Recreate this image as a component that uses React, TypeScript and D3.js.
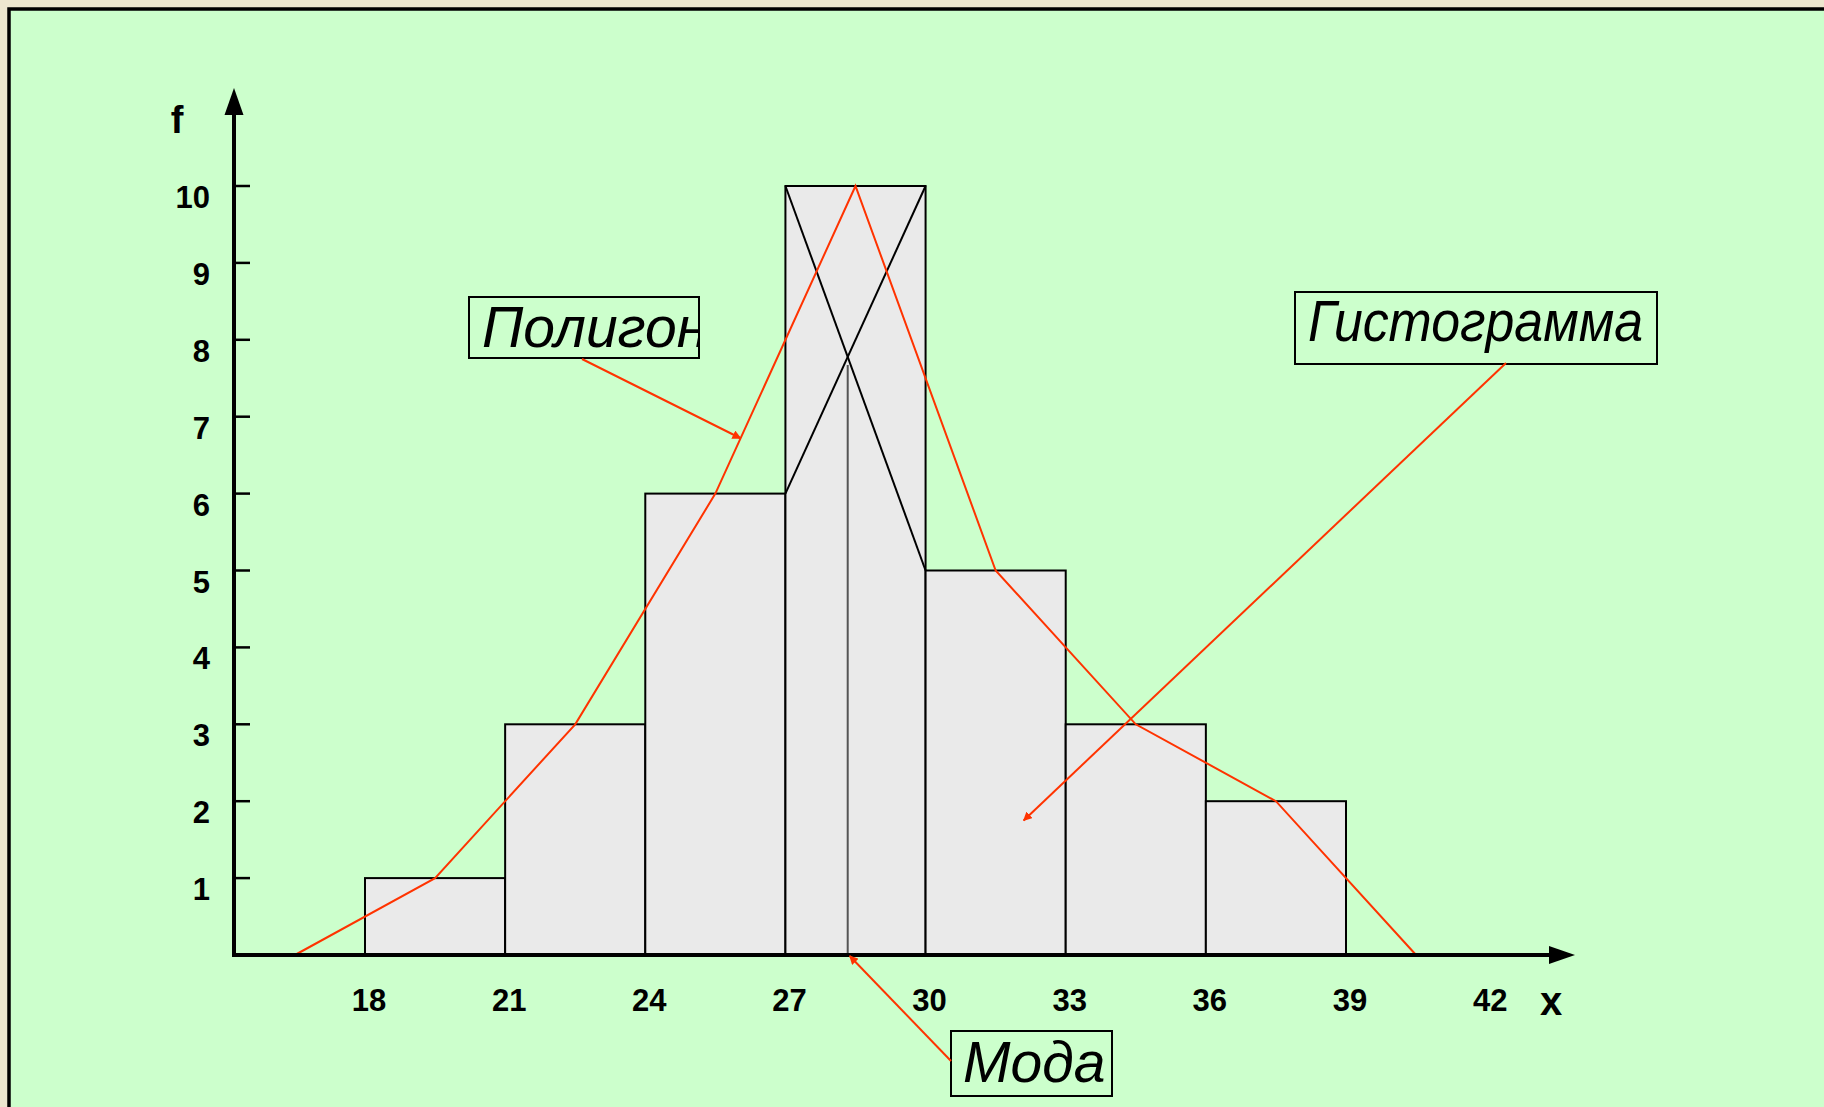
import { useEffect, useRef } from 'react';
import * as d3 from 'd3';

// histogram classes (bin edges) and frequencies
const binEdges = [18, 21, 24, 27, 30, 33, 36, 39];
const frequencies = [1, 3, 6, 10, 5, 3, 2];
// polygon: class midpoints incl. the empty classes on both ends
const polygonX = [16.5, 19.5, 22.5, 25.5, 28.5, 31.5, 34.5, 37.5, 40.5];
const polygonF = [0, 1, 3, 6, 10, 5, 3, 2, 0];
const yTicks = [1, 2, 3, 4, 5, 6, 7, 8, 9, 10];
const xTicks = [18, 21, 24, 27, 30, 33, 36, 39, 42];

const W = 1824;
const H = 1107;
const RED = '#ff3300';
const FONT = '"Liberation Sans", Arial, sans-serif';

export default function App() {
  const svgRef = useRef<SVGSVGElement | null>(null);

  useEffect(() => {
    document.body.style.margin = '0';
    document.body.style.overflow = 'hidden';

    const svg = d3.select(svgRef.current);
    svg.selectAll('*').remove();

    const x = d3.scaleLinear().domain([18, 39]).range([365, 1346]);
    const y = d3.scaleLinear().domain([0, 10]).range([955, 186]);
    const x0 = 234;
    const y0 = y(0);

    // background + panel
    svg.append('rect').attr('width', W).attr('height', H).attr('fill', '#ede6cf');
    svg.append('rect')
      .attr('x', 9).attr('y', 9)
      .attr('width', W + 20).attr('height', H + 20)
      .attr('fill', '#ccffcc')
      .attr('stroke', '#000')
      .attr('stroke-width', 3.5);

    const defs = svg.append('defs');
    defs.append('marker')
      .attr('id', 'redArrow')
      .attr('viewBox', '0 0 10 10')
      .attr('refX', 9).attr('refY', 5)
      .attr('markerWidth', 9).attr('markerHeight', 9)
      .attr('markerUnits', 'userSpaceOnUse')
      .attr('orient', 'auto')
      .append('path')
      .attr('d', 'M0,0 L10,5 L0,10 z')
      .attr('fill', RED);
    defs.append('clipPath').attr('id', 'polyClip')
      .append('rect').attr('x', 469).attr('y', 297).attr('width', 230).attr('height', 61);

    const g = svg.append('g');

    // histogram bars
    const bins = frequencies.map((f, i) => ({ x1: binEdges[i], x2: binEdges[i + 1], f }));
    g.selectAll('rect.bar')
      .data(bins)
      .enter()
      .append('rect')
      .attr('class', 'bar')
      .attr('x', d => x(d.x1))
      .attr('y', d => y(d.f))
      .attr('width', d => x(d.x2) - x(d.x1))
      .attr('height', d => y0 - y(d.f))
      .attr('fill', '#eaeaea')
      .attr('stroke', '#000')
      .attr('stroke-width', 2);

    // mode construction on the modal class
    const m = frequencies.indexOf(d3.max(frequencies)!);
    const fm = frequencies[m];
    const fPrev = frequencies[m - 1];
    const fNext = frequencies[m + 1];
    const a = binEdges[m];
    const b = binEdges[m + 1];
    g.append('line')
      .attr('x1', x(a)).attr('y1', y(fm))
      .attr('x2', x(b)).attr('y2', y(fNext))
      .attr('stroke', '#000').attr('stroke-width', 2);
    g.append('line')
      .attr('x1', x(b)).attr('y1', y(fm))
      .attr('x2', x(a)).attr('y2', y(fPrev))
      .attr('stroke', '#000').attr('stroke-width', 2);
    const mode = a + (b - a) * (fm - fPrev) / ((fm - fPrev) + (fm - fNext));
    const fMode = fm - (fm - fNext) * (mode - a) / (b - a);
    g.append('line')
      .attr('x1', x(mode)).attr('y1', y(fMode) + 8)
      .attr('x2', x(mode)).attr('y2', y0)
      .attr('stroke', '#555').attr('stroke-width', 2);

    // frequency polygon
    const line = d3.line<number>()
      .x((_, i) => x(polygonX[i]))
      .y(d => y(d));
    g.append('path')
      .attr('d', line(polygonF)!)
      .attr('fill', 'none')
      .attr('stroke', RED)
      .attr('stroke-width', 2);

    // axes
    g.append('line')
      .attr('x1', x0).attr('y1', y0)
      .attr('x2', x0).attr('y2', 112)
      .attr('stroke', '#000').attr('stroke-width', 4);
    g.append('path')
      .attr('d', `M${x0},88 L${x0 - 9.5},115 L${x0 + 9.5},115 Z`)
      .attr('fill', '#000');
    g.append('line')
      .attr('x1', x0 - 2).attr('y1', y0)
      .attr('x2', 1552).attr('y2', y0)
      .attr('stroke', '#000').attr('stroke-width', 4);
    g.append('path')
      .attr('d', `M1575,${y0} L1549,${y0 - 9} L1549,${y0 + 9} Z`)
      .attr('fill', '#000');

    g.selectAll('line.ytick')
      .data(yTicks)
      .enter()
      .append('line')
      .attr('class', 'ytick')
      .attr('x1', x0).attr('x2', x0 + 16)
      .attr('y1', d => y(d)).attr('y2', d => y(d))
      .attr('stroke', '#000').attr('stroke-width', 2.5);

    g.selectAll('text.ylab')
      .data(yTicks)
      .enter()
      .append('text')
      .attr('class', 'ylab')
      .attr('x', 210)
      .attr('y', d => y(d) + 22)
      .attr('text-anchor', 'end')
      .attr('font-family', FONT)
      .attr('font-weight', 'bold')
      .attr('font-size', 31)
      .text(d => d);

    g.selectAll('text.xlab')
      .data(xTicks)
      .enter()
      .append('text')
      .attr('class', 'xlab')
      .attr('x', d => x(d) + 4)
      .attr('y', 1011)
      .attr('text-anchor', 'middle')
      .attr('font-family', FONT)
      .attr('font-weight', 'bold')
      .attr('font-size', 31)
      .text(d => d);

    g.append('text')
      .attr('x', 177).attr('y', 133)
      .attr('text-anchor', 'middle')
      .attr('font-family', FONT).attr('font-weight', 'bold').attr('font-size', 38)
      .text('f');
    g.append('text')
      .attr('x', 1551).attr('y', 1015)
      .attr('text-anchor', 'middle')
      .attr('font-family', FONT).attr('font-weight', 'bold').attr('font-size', 40)
      .text('x');

    // annotation boxes
    const boxes = [
      { text: 'Полигон', x: 469, y: 297, w: 230, h: 61, tx: 482, ty: 347, clip: true, len: 0 },
      { text: 'Гистограмма', x: 1295, y: 292, w: 362, h: 72, tx: 1308, ty: 341, clip: false, len: 335 },
      { text: 'Мода', x: 951, y: 1031, w: 161, h: 65, tx: 963, ty: 1082, clip: false, len: 0 },
    ];
    boxes.forEach(bx => {
      g.append('rect')
        .attr('x', bx.x).attr('y', bx.y)
        .attr('width', bx.w).attr('height', bx.h)
        .attr('fill', '#ccffcc')
        .attr('stroke', '#000').attr('stroke-width', 2);
      const t = g.append('text')
        .attr('x', bx.tx).attr('y', bx.ty)
        .attr('font-family', FONT)
        .attr('font-style', 'italic')
        .attr('font-size', 57)
        .text(bx.text);
      if (bx.clip) t.attr('clip-path', 'url(#polyClip)');
      if (bx.len) t.attr('textLength', bx.len).attr('lengthAdjust', 'spacingAndGlyphs');
    });

    // red pointer arrows
    const segT = 0.18;
    const polyPt: [number, number] = [
      polygonX[3] + (polygonX[4] - polygonX[3]) * segT,
      polygonF[3] + (polygonF[4] - polygonF[3]) * segT,
    ];
    const arrows = [
      { from: [582, 359], to: [x(polyPt[0]), y(polyPt[1])] },
      { from: [1506, 363], to: [x(32.1), y(1.75)] },
      { from: [951, 1061], to: [x(mode) + 2, y0 + 1] },
    ];
    arrows.forEach(ar => {
      g.append('line')
        .attr('x1', ar.from[0]).attr('y1', ar.from[1])
        .attr('x2', ar.to[0]).attr('y2', ar.to[1])
        .attr('stroke', RED).attr('stroke-width', 2)
        .attr('marker-end', 'url(#redArrow)');
    });
  }, []);

  return <svg ref={svgRef} width={W} height={H} style={{ display: 'block' }} />;
}
